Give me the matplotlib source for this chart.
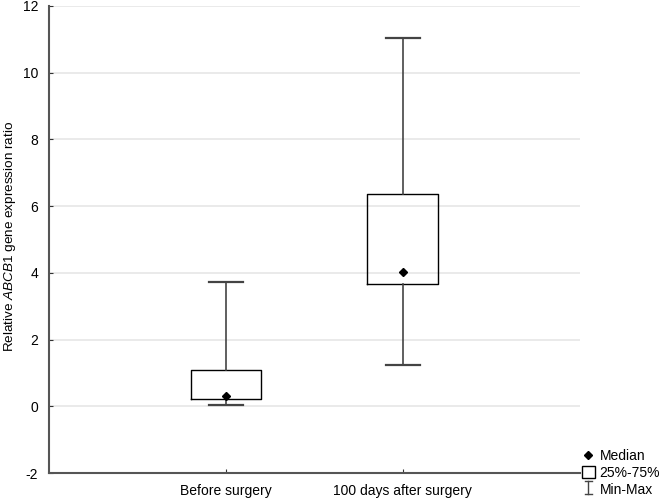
import matplotlib
matplotlib.use("Agg")
import matplotlib.pyplot as plt
from matplotlib.lines import Line2D
from matplotlib.patches import Rectangle
from matplotlib.legend_handler import HandlerBase

plt.rcParams["font.family"] = ["Liberation Sans", "DejaVu Sans"]
plt.rcParams["mathtext.fontset"] = "custom"
plt.rcParams["mathtext.rm"] = "Liberation Sans"
plt.rcParams["mathtext.it"] = "Liberation Sans:italic"
plt.rcParams["axes.unicode_minus"] = False

# Данные
groups = ["Before surgery", "100 days after surgery"]
mins = [0.03, 1.23]
q1 = [0.21, 3.68]
medians = [0.30, 4.04]
q3 = [1.08, 6.35]
maxs = [3.74, 11.05]

edge = "#444444"


# Значок "Min-Max" для легенды
class HandlerMinMax(HandlerBase):
    def create_artists(self, legend, orig_handle, xd, yd, w, h, fontsize, trans):
        cx = xd + w / 2
        cw = w * 0.6
        y0, y1 = yd - h * 0.1, yd + h * 1.0
        return [
            Line2D([cx, cx], [y0, y1], color=edge, lw=1, transform=trans),
            Line2D([cx - cw / 2, cx + cw / 2], [y0, y0], color=edge, lw=1, transform=trans),
            Line2D([cx - cw / 2, cx + cw / 2], [y1, y1], color=edge, lw=1, transform=trans),
        ]


class MinMax:
    pass


fig = plt.figure(figsize=(6.64, 4.99), dpi=100)
ax = fig.add_axes([0.074, 0.052, 0.799, 0.936])

stats = []
for i, g in enumerate(groups):
    stats.append({
        "label": g, "whislo": mins[i], "q1": q1[i], "med": medians[i],
        "q3": q3[i], "whishi": maxs[i], "fliers": [],
    })

ax.bxp(stats, positions=[1, 2], widths=0.4, showfliers=False,
       boxprops=dict(color="black", lw=1),
       whiskerprops=dict(color=edge, lw=1.2),
       capprops=dict(color=edge, lw=1.6),
       medianprops=dict(lw=0), capwidths=0.19)
ax.plot([1, 2], medians, "D", color="black", ms=4.5, ls="none", zorder=5)

ax.set_xlim(0, 3)
ax.set_ylim(-2, 12)
ax.set_yticks(range(-2, 13, 2))
ax.yaxis.grid(True, color="#e6e6e6", lw=1.2)
ax.set_axisbelow(True)
ax.spines["top"].set_visible(False)
ax.spines["right"].set_visible(False)
ax.spines["left"].set_color("#555555")
ax.spines["bottom"].set_color("#555555")
ax.spines["left"].set_linewidth(1.5)
ax.spines["bottom"].set_linewidth(1.5)
ax.tick_params(axis="both", direction="in", length=3, color="#333333", labelsize=10)
ax.tick_params(axis="y", pad=8)
ax.tick_params(axis="x", pad=8)
ax.set_ylabel(r"Relative $\mathit{ABCB1}$ gene expression ratio", fontsize=9.7)
ax.yaxis.set_label_coords(-0.058, 0.507)

handles = [
    Line2D([], [], marker="D", color="black", ls="none", ms=4),
    Rectangle((0, 0), 1, 1, facecolor="white", edgecolor="black", lw=1),
    MinMax(),
]
fig.legend(handles, ["Median", "25%-75%", "Min-Max"],
           handler_map={MinMax: HandlerMinMax()},
           loc="lower left", bbox_to_anchor=(0.862, -0.015), frameon=False,
           fontsize=10, handlelength=0.9, handleheight=0.9,
           handletextpad=0.35, labelspacing=0.2, borderpad=0.2)

fig.savefig("out.png", dpi=100)
